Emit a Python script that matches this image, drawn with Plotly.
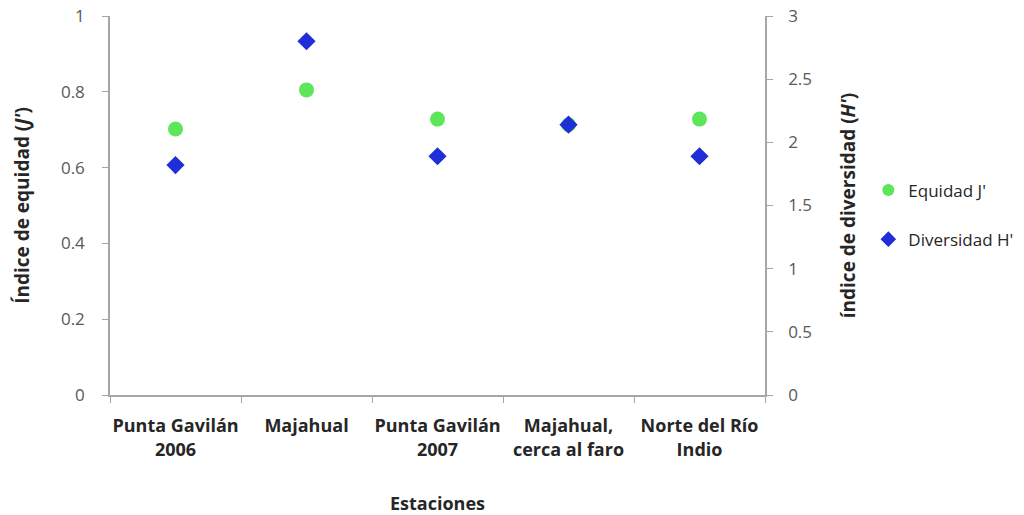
import plotly.graph_objects as go

# Sampling stations and diversity indices
estaciones = [
    "Punta Gavilán<br>2006",
    "Majahual",
    "Punta Gavilán<br>2007",
    "Majahual,<br>cerca al faro",
    "Norte del Río<br>Indio",
]
equidad_j = [0.702, 0.805, 0.728, 0.713, 0.728]
diversidad_h = [1.82, 2.80, 1.89, 2.14, 1.89]

FONT = "Open Sans"
AXIS_GREY = "#a6a6a6"
TEXT_DARK = "#262626"
TICK_GREY = "#595959"

fig = go.Figure()

fig.add_trace(go.Scatter(
    x=estaciones, y=equidad_j, mode="markers", name="Equidad J'",
    legendgroup="j",
    marker=dict(symbol="circle", size=15, color="#5ee65a"),
    yaxis="y",
))
fig.add_trace(go.Scatter(
    x=estaciones, y=diversidad_h, mode="markers", name="Diversidad H'",
    legendgroup="h",
    marker=dict(symbol="diamond", size=14, color="#1f2ed6"),
    yaxis="y2",
))

fig.update_layout(
    width=1024, height=515,
    margin=dict(l=110, r=259, t=16, b=120),
    paper_bgcolor="white", plot_bgcolor="white",
    font=dict(family=FONT, color=TEXT_DARK),
    showlegend=True,
    legend=dict(
        xref="container", yref="container",
        x=0.848, y=0.665, xanchor="left", yanchor="top",
        font=dict(family=FONT, size=17, color=TEXT_DARK),
        tracegroupgap=24, itemsizing="constant", itemwidth=30,
        bgcolor="rgba(0,0,0,0)",
    ),
    xaxis=dict(
        type="category", range=[-0.5, 4.5], automargin=False, tickangle=0,
        showline=True, linecolor=AXIS_GREY, linewidth=1.5,
        ticks="outside", tickson="boundaries", ticklen=6, tickcolor=AXIS_GREY,
        tickfont=dict(family=FONT, size=18, color=TEXT_DARK, weight="bold"),
        ticklabelstandoff=14,
        showgrid=False, zeroline=False,
        title=dict(text="<b>Estaciones</b>", font=dict(family=FONT, size=18, color=TEXT_DARK),
                   standoff=38),
    ),
    yaxis=dict(
        range=[0, 1], tickvals=[0, 0.2, 0.4, 0.6, 0.8, 1], automargin=False,
        ticktext=["0", "0.2", "0.4", "0.6", "0.8", "1"],
        showline=True, linecolor=AXIS_GREY, linewidth=1.5,
        ticks="outside", ticklen=6, tickcolor=AXIS_GREY,
        tickfont=dict(family=FONT, size=17, color=TICK_GREY),
        ticklabelstandoff=14,
        showgrid=False, zeroline=False,
        title=dict(text="<b>Índice de equidad (<i>J'</i>)</b>",
                   font=dict(family=FONT, size=19, color=TEXT_DARK), standoff=26),
    ),
    yaxis2=dict(
        range=[0, 3], tickvals=[0, 0.5, 1, 1.5, 2, 2.5, 3], automargin=False,
        ticktext=["0", "0.5", "1", "1.5", "2", "2.5", "3"],
        overlaying="y", side="right",
        showline=True, linecolor=AXIS_GREY, linewidth=1.5,
        ticks="outside", ticklen=6, tickcolor=AXIS_GREY,
        tickfont=dict(family=FONT, size=17, color=TICK_GREY),
        ticklabelstandoff=12,
        showgrid=False, zeroline=False,
        title=dict(text="<b>índice de diversidad (<i>H'</i>)</b>",
                   font=dict(family=FONT, size=19, color=TEXT_DARK), standoff=31),
    ),
)

fig.write_html("out.html")
